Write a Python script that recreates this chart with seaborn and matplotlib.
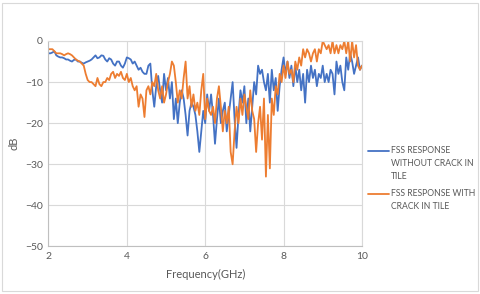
import numpy as np
import pandas as pd
import matplotlib
matplotlib.use("Agg")
import matplotlib.pyplot as plt
import seaborn as sns
from matplotlib.patches import Rectangle
from matplotlib.lines import Line2D

# Frequency grid (GHz), 0.05 GHz step
freq = np.round(np.arange(2.0, 10.0001, 0.05), 2)

# FSS response without crack (dB)
no_crack = [
    -3, -3, -2.8, -2.5, -3.5, -3.8, -4, -4, -4.2, -4.5,
    -4.5, -4.8, -5, -4.6, -4.5, -5, -5, -5.3, -5.5, -5.2,
    -5, -4.8, -4.5, -4, -3.5, -4.2, -4, -3.5, -3.6, -4.5,
    -5, -4.2, -4.5, -5.5, -6, -5, -5, -6, -6.5, -5.5,
    -4, -4.2, -4.5, -5.5, -5, -6, -7, -6.5, -7.5, -8,
    -8, -6, -5.5, -12, -16, -11, -8.5, -12, -15, -8,
    -12, -9, -14, -10, -19, -14, -20, -15, -12, -14,
    -18, -23, -17, -15, -16, -18, -22, -27, -22, -17,
    -20, -13, -17, -13, -18, -25, -19, -14, -20, -17,
    -15, -22, -18, -14, -10, -19, -26, -18, -12, -15,
    -11, -20, -14, -22, -16, -10, -13, -6, -8, -7,
    -10, -12, -8, -15, -7, -12, -9, -17, -11, -7,
    -4, -8, -5, -9, -6, -11, -6, -10, -7, -12,
    -8, -15, -7, -10, -6, -9, -7, -11, -8, -9,
    -6, -10, -8, -10, -7, -8, -13, -5, -8, -6,
    -10, -12, -4, -7, -3, -5, -8, -6, -4, -7,
    -6,
]

# FSS response with crack (dB)
with_crack = [
    -2, -2, -2, -2.5, -3, -3, -3, -3.2, -3.5, -3.2,
    -3, -3.2, -3.5, -4, -4.5, -4.8, -5, -5.5, -6, -8,
    -9.5, -10, -10, -10.5, -11, -9, -10.5, -11, -10, -10,
    -9, -9.5, -8, -7.5, -9, -8, -8.5, -7.5, -9, -9.5,
    -8, -10, -9, -11, -12, -11, -16, -13, -14, -18.5,
    -12, -11, -13, -10, -11, -8, -12, -14, -11, -15,
    -13, -10, -8, -5, -6, -10, -15, -12, -14, -9,
    -5, -14, -11, -16, -13, -17, -15, -18, -12, -8,
    -19, -14, -17, -18, -16, -20, -14, -11, -16, -22,
    -17, -20, -16, -27, -30, -22, -16, -20, -14, -18,
    -13, -16, -19, -12, -17, -19, -27, -20, -16, -24,
    -14, -33, -18, -31, -14, -18, -11, -13, -8, -10,
    -6, -9, -5, -8, -7, -10, -5, -7, -4, -6,
    -2, -4, -2, -3, -5, -3, -2, -5, -2, -3,
    0, -1, -2, -1, -3, 0, -3, -1, -3, -1,
    -2, 0, -3, 0, -5, 0, -4, -1, -6, -7,
    -6,
]

labels = ["FSS RESPONSE\nWITHOUT CRACK IN\nTILE", "FSS RESPONSE WITH\nCRACK IN TILE"]
colors = ["#4472C4", "#ED7D31"]

df = pd.DataFrame({
    "freq": np.concatenate([freq, freq]),
    "dB": no_crack + with_crack,
    "series": [labels[0]] * len(freq) + [labels[1]] * len(freq),
})

sns.set_theme(style="whitegrid")
plt.rcParams["font.family"] = ["Lato", "DejaVu Sans"]

W, H = 480, 294
fig = plt.figure(figsize=(W / 100, H / 100), dpi=100)
ax = fig.add_axes([0.101, 0.1616, 0.653, 0.699])

sns.lineplot(data=df, x="freq", y="dB", hue="series", palette=colors,
             linewidth=1.3, ax=ax, legend=False)

ax.set_xlim(2, 10)
ax.set_ylim(-50, 0)
ax.set_xticks([2, 4, 6, 8, 10])
ax.set_yticks([0, -10, -20, -30, -40, -50])
ax.grid(color="#d9d9d9", linewidth=0.8)
for s in ax.spines.values():
    s.set_color("#d9d9d9")
    s.set_linewidth(0.8)
ax.spines["left"].set_color("#bfbfbf")
ax.spines["bottom"].set_color("#bfbfbf")
ax.tick_params(axis="both", labelsize=7.5, colors="#595959", length=0, pad=4)
ax.set_xlabel("Frequency(GHz)", fontsize=8, color="#595959", labelpad=6)
ax.set_ylabel("dB", fontsize=8, color="#595959", labelpad=4)

# Excel-style legend: handle aligned with the first text line
legend_rows = [151, 194]
for lab, c, yp in zip(labels, colors, legend_rows):
    fy = 1 - yp / H
    fig.add_artist(Line2D([368 / W, 389 / W], [fy, fy], color=c, linewidth=1.3,
                          transform=fig.transFigure))
    fig.text(391 / W, fy + 5 / H, lab, fontsize=6.2, color="#595959",
             va="top", ha="left", linespacing=1.6)

fig.patches.append(Rectangle((0.004, 0.01), 0.992, 0.98, transform=fig.transFigure,
                             fill=False, edgecolor="#d9d9d9", linewidth=0.8))

fig.savefig("out.png", dpi=100)
